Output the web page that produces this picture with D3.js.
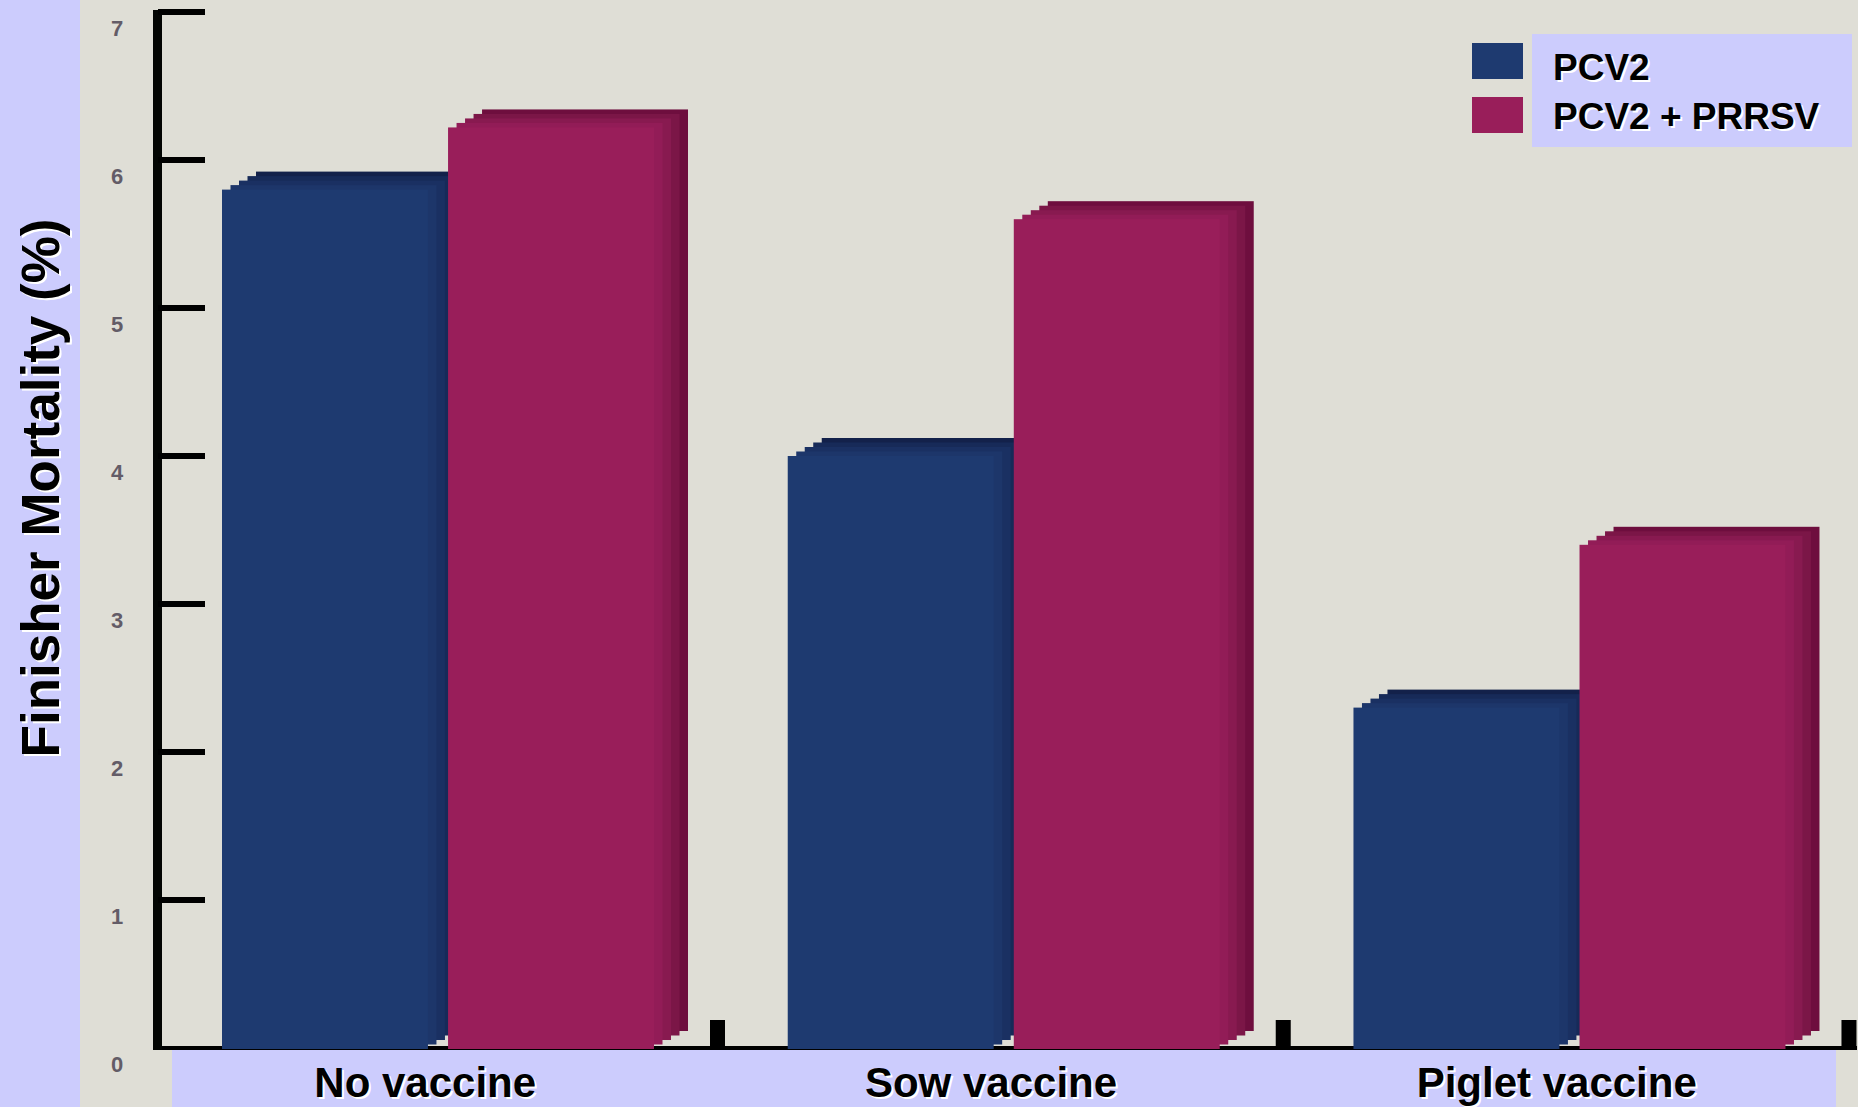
<!DOCTYPE html>
<html>
<head>
<meta charset="utf-8">
<script src="https://cdn.jsdelivr.net/npm/d3@7"></script>
<style>
  html, body { margin: 0; padding: 0; background: #dfded6; }
  svg { display: block; }
  text { font-family: "Liberation Sans", Arial, sans-serif; font-weight: bold; }
</style>
</head>
<body>
<div id="chart"></div>
<script>
(() => {

// DATA
const categories = ["No vaccine", "Sow vaccine", "Piglet vaccine"];
const seriesNames = ["PCV2", "PCV2 + PRRSV"];
const pcv2Values = [5.8, 4.0, 2.3];
const pcv2PrrsvValues = [6.22, 5.6, 3.4];
const yTickValues = [0, 1, 2, 3, 4, 5, 6, 7];

// colours: front face, then the extrusion layers going back
const seriesColors = {
  "PCV2": ["#1e3a70", "#1d366a", "#1a3062", "#172a58", "#13214a"],
  "PCV2 + PRRSV": ["#991e5a", "#921c57", "#881a50", "#7b1647", "#6e0e3e"]
};

const width = 1858, height = 1107;
const depthDx = 8.5, depthDy = -4.5;

const svg = d3.select("#chart")
  .append("svg")
  .attr("width", width)
  .attr("height", height);

// background + left band
svg.append("rect").attr("width", width).attr("height", height).attr("fill", "#dfded6");
svg.append("rect").attr("width", 80).attr("height", height).attr("fill", "#ccccfd");

// scales
const y = d3.scaleLinear().domain([0, 7]).range([1048, 12]);

const xGroup = d3.scaleBand()
  .domain(categories)
  .range([222, 1784])
  .paddingInner(0.239)
  .paddingOuter(0);

const xSeries = d3.scaleBand()
  .domain(seriesNames)
  .range([0, 432])
  .paddingInner(0.0889)
  .paddingOuter(0);

const rows = categories.map((c, i) => ({
  category: c,
  values: [
    { series: seriesNames[0], value: pcv2Values[i] },
    { series: seriesNames[1], value: pcv2PrrsvValues[i] }
  ]
}));

// x axis line (under bars)
svg.append("rect")
  .attr("x", 153).attr("y", y(0) - 2)
  .attr("width", 1857 - 153).attr("height", 4)
  .attr("fill", "#000");

// thick category separators on x axis
svg.selectAll(".sep")
  .data(categories)
  .enter()
  .append("rect")
  .attr("class", "sep")
  .attr("x", d => xGroup(d) + 488)
  .attr("y", y(0) - 28)
  .attr("width", 15)
  .attr("height", 28)
  .attr("fill", "#000");

// bars with a stepped 3d extrusion
const groups = svg.selectAll(".group")
  .data(rows)
  .enter()
  .append("g")
  .attr("class", "group")
  .attr("transform", d => `translate(${xGroup(d.category)},0)`);

groups.each(function (row) {
  const g = d3.select(this);
  row.values.forEach(v => {
    const cols = seriesColors[v.series];
    for (let k = cols.length - 1; k >= 0; k--) {
      g.append("rect")
        .attr("x", xSeries(v.series) + k * depthDx)
        .attr("y", y(v.value) + k * depthDy)
        .attr("width", xSeries.bandwidth())
        .attr("height", y(0) - y(v.value) + 1)
        .attr("fill", cols[k]);
    }
  });
});

// y axis
svg.append("rect")
  .attr("x", 153).attr("y", 10)
  .attr("width", 9).attr("height", y(0) + 2 - 10)
  .attr("fill", "#030503");

svg.selectAll(".ytick")
  .data(yTickValues.filter(d => d > 0))
  .enter()
  .append("rect")
  .attr("class", "ytick")
  .attr("x", 158)
  .attr("y", d => y(d) - 3)
  .attr("width", 47)
  .attr("height", 6)
  .attr("fill", "#000");

svg.selectAll(".ylabel")
  .data(yTickValues)
  .enter()
  .append("text")
  .attr("class", "ylabel")
  .attr("x", 117)
  .attr("y", d => y(d) + 24)
  .attr("text-anchor", "middle")
  .attr("font-size", 22)
  .attr("fill", "#3a3142")
  .attr("opacity", 0.75)
  .text(d => d);

// bottom label band
svg.append("rect")
  .attr("x", 172).attr("y", y(0) + 2)
  .attr("width", 1836 - 172).attr("height", height - y(0))
  .attr("fill", "#ccccfd");

function shadowText(sel, txt, attrs) {
  const white = sel.append("text").text(txt).attr("fill", "#fff");
  const black = sel.append("text").text(txt).attr("fill", "#000");
  Object.entries(attrs).forEach(([k, v]) => { white.attr(k, v); black.attr(k, v); });
  white.attr("transform", `translate(2,2) ${attrs.transform || ""}`);
}

categories.forEach(c => {
  shadowText(svg, c, {
    x: xGroup(c) + xGroup.bandwidth() / 2 - 12,
    y: 1097,
    "text-anchor": "middle",
    "font-size": 42
  });
});

// y title
shadowText(svg, "Finisher Mortality (%)", {
  transform: "translate(59,488) rotate(-90)",
  x: 0, y: 0,
  "text-anchor": "middle",
  "font-size": 53
});

// legend
const legend = svg.append("g");
legend.append("rect")
  .attr("x", 1532).attr("y", 34)
  .attr("width", 320).attr("height", 113)
  .attr("fill", "#ccccfd");

seriesNames.forEach((s, i) => {
  legend.append("rect")
    .attr("x", 1472).attr("y", 43 + i * 54)
    .attr("width", 51).attr("height", 36)
    .attr("fill", seriesColors[s][0]);
  shadowText(legend, s, {
    x: 1553,
    y: 80 + i * 49,
    "font-size": 37
  });
});

})();
</script>
</body>
</html>
